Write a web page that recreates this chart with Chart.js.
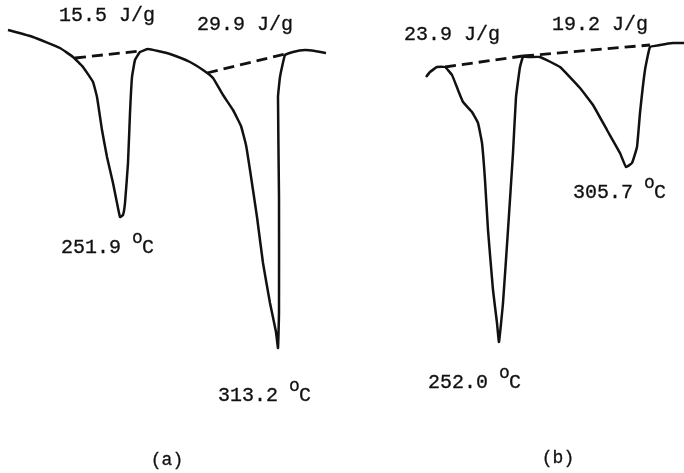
<!DOCTYPE html>
<html>
<head>
<meta charset="utf-8">
<script src="https://cdn.jsdelivr.net/npm/chart.js@4.4.1/dist/chart.umd.min.js"></script>
<style>
  html, body { margin: 0; padding: 0; background: #fff; }
  #wrap { width: 684px; height: 473px; }
</style>
</head>
<body>
<div id="wrap"><canvas id="dsc" width="684" height="473"></canvas></div>
<script>
// DSC thermograms (a) and (b), traced in plot units (x right, y down)
const curveAX = [8, 33, 60, 73, 83, 93, 97, 102, 107, 113, 117, 120, 123, 125, 128, 130, 132, 135, 140, 148, 158, 170, 190, 203, 213, 223, 233, 241, 246, 250, 257, 263, 270, 276, 278, 279, 279, 278, 280, 285, 293, 305, 315, 326];
const curveAY = [30, 37, 48, 57, 67, 82, 97, 130, 157, 183, 203, 217, 215, 203, 163, 113, 77, 60, 52, 49, 51, 54, 62, 70, 78, 95, 110, 126, 145, 170, 217, 263, 303, 332, 348, 313, 197, 97, 77, 55, 52, 50, 51, 53];

const curveBX = [426, 430, 437, 445, 452, 458, 463, 472, 478, 482, 485, 488, 493, 497, 499, 503, 508, 513, 516, 520, 523, 530, 540, 560, 580, 593, 607, 620, 626, 632, 637, 640, 645, 650, 660, 673, 684];
const curveBY = [77, 72, 67, 67, 75, 90, 102, 112, 123, 143, 180, 230, 290, 323, 342, 303, 230, 153, 97, 67, 57, 57, 57, 67, 88, 105, 130, 153, 167, 163, 147, 113, 70, 47, 45, 43, 43];

// integration baselines (start, end)
const baseA1 = [[75, 58], [140, 51]];
const baseA2 = [[207, 73], [285, 54]];
const baseB1 = [[445, 67], [523, 56]];
const baseB2 = [[523, 56], [650, 45]];

// annotations
const labelText = ["15.5 J/g", "29.9 J/g", "23.9 J/g", "19.2 J/g"];
const labelX = [59, 197, 404, 552];
const labelY = [16, 25, 35, 25];
const peakText = ["251.9", "313.2", "252.0", "305.7"];
const peakX = [61, 218, 428, 573];
const peakY = [248, 396, 383, 193];
const panelText = ["(a)", "(b)"];
const panelX = [167, 558];
const panelY = [460, 458];

function pts(xs, ys) { return xs.map((x, i) => ({ x: x, y: ys[i] })); }
function seg(p) { return p.map((q) => ({ x: q[0], y: q[1] })); }

const solid = { showLine: true, borderColor: "#111", borderWidth: 2.5, pointRadius: 0, tension: 0.1, fill: false };
const dashed = { showLine: true, borderColor: "#111", borderWidth: 2.8, borderDash: [11, 6], pointRadius: 0, tension: 0, fill: false };

const MONO = "'Liberation Mono', 'DejaVu Sans Mono', monospace";

function ink(c, t, x, y) {
  c.fillText(t, x, y);
  c.strokeText(t, x, y);
}

const textPlugin = {
  id: "texts",
  afterDatasetsDraw(chart) {
    const c = chart.ctx, sx = chart.scales.x, sy = chart.scales.y;
    c.save();
    c.fillStyle = "#111";
    c.strokeStyle = "#111";
    c.lineWidth = 0.3;
    c.textBaseline = "middle";
    c.textAlign = "left";
    c.font = "20px " + MONO;
    labelText.forEach((t, i) => ink(c, t, sx.getPixelForValue(labelX[i]), sy.getPixelForValue(labelY[i])));
    peakText.forEach((t, i) => {
      const x = sx.getPixelForValue(peakX[i]), y = sy.getPixelForValue(peakY[i]);
      c.font = "20px " + MONO;
      const w = c.measureText(t + " ").width;
      ink(c, t, x, y);
      c.font = "18px " + MONO;
      ink(c, "o", x + w - 1, y - 10);
      c.font = "20px " + MONO;
      ink(c, "C", x + w + 9, y);
    });
    c.textAlign = "center";
    c.font = "18px " + MONO;
    panelText.forEach((t, i) => ink(c, t, sx.getPixelForValue(panelX[i]), sy.getPixelForValue(panelY[i])));
    c.restore();
  },
};

new Chart(document.getElementById("dsc").getContext("2d"), {
  type: "scatter",
  data: {
    datasets: [
      Object.assign({ label: "a", data: pts(curveAX, curveAY) }, solid),
      Object.assign({ label: "b", data: pts(curveBX, curveBY) }, solid),
      Object.assign({ label: "baseA1", data: seg(baseA1) }, dashed),
      Object.assign({ label: "baseA2", data: seg(baseA2) }, dashed),
      Object.assign({ label: "baseB1", data: seg(baseB1) }, dashed),
      Object.assign({ label: "baseB2", data: seg(baseB2) }, dashed),
    ],
  },
  options: {
    responsive: false,
    animation: false,
    layout: { padding: 0 },
    plugins: { legend: { display: false }, tooltip: { enabled: false } },
    scales: {
      x: { type: "linear", min: 0, max: 684, display: false },
      y: { type: "linear", min: 0, max: 473, reverse: true, display: false },
    },
  },
  plugins: [textPlugin],
});
</script>
</body>
</html>
